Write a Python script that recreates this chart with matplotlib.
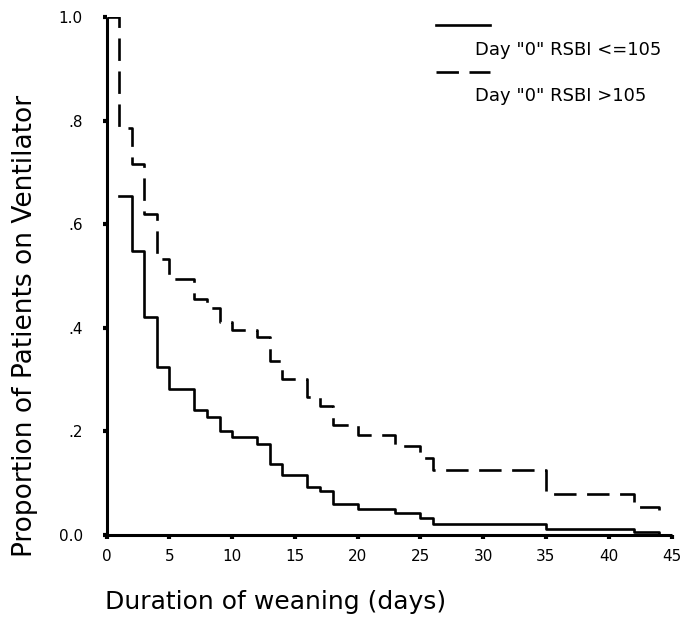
import numpy as np
import matplotlib
matplotlib.use("Agg")
import matplotlib.pyplot as plt
from matplotlib.lines import Line2D

# ---------------- DATA ----------------

# RSBI <= 105 (solid line): time of each step (days) and proportion after it
low_days = [1, 2, 3, 4, 5, 7, 8, 9, 10, 12, 13, 14, 16, 17, 18, 20, 23, 25, 26, 35, 42, 44]
low_prop = [0.655, 0.549, 0.421, 0.324, 0.281, 0.241, 0.228, 0.201, 0.189, 0.176, 0.137,
            0.116, 0.093, 0.084, 0.060, 0.050, 0.042, 0.032, 0.022, 0.011, 0.006, 0.0]

# RSBI > 105 (dashed line)
high_days = [0, 1, 2, 3, 4, 5, 7, 8, 9, 10, 12, 13, 14, 16, 17, 18, 20, 23, 25, 26, 35, 42, 44]
high_prop = [1.0, 0.786, 0.716, 0.619, 0.533, 0.494, 0.455, 0.438, 0.412, 0.395, 0.382, 0.336,
             0.302, 0.266, 0.249, 0.212, 0.193, 0.172, 0.148, 0.125, 0.079, 0.055, 0.035]

x_ticks = [0, 5, 10, 15, 20, 25, 30, 35, 40, 45]
y_ticks = [0.0, 0.2, 0.4, 0.6, 0.8, 1.0]
y_ticklabels = ["0.0", ".2", ".4", ".6", ".8", "1.0"]

legend_labels = ['Day "0" RSBI <=105', 'Day "0" RSBI >105']

# ---------------- PLOTTING ----------------

plt.rcParams['font.family'] = ['DejaVu Sans']

fig = plt.figure(figsize=(6.81, 6.26), dpi=100)
ax = fig.add_axes([106.5 / 681, 1 - 535 / 626, 565 / 681, 518 / 626])

lw = 1.9
dash = [8.5, 4.0]
ax.step(low_days, low_prop, where='post', color='black', lw=lw)
dashed, = ax.step(high_days, high_prop, where='post', color='black', lw=lw)
dashed.set_dashes(dash)

ax.set_xlim(0, 45)
ax.set_ylim(0, 1.0)

for side in ['top', 'right']:
    ax.spines[side].set_visible(False)
for side in ['left', 'bottom']:
    ax.spines[side].set_linewidth(2.2)
    ax.spines[side].set_capstyle('butt')

ax.set_xticks(x_ticks)
ax.set_yticks(y_ticks)
ax.set_yticklabels(y_ticklabels)
ax.tick_params(axis='both', direction='out', length=3, width=3, labelsize=11)
ax.tick_params(axis='x', pad=7)
ax.tick_params(axis='y', pad=14)

fig.text(105 / 681, 1 - 602 / 626, 'Duration of weaning (days)', fontsize=18,
         ha='left', va='center')
fig.text(25 / 681, 1 - 326 / 626, 'Proportion of Patients on Ventilator', fontsize=19,
         rotation=90, ha='center', va='center')

# legend: sample line above each label
ax.add_line(Line2D([0.583, 0.678], [0.985, 0.985], transform=ax.transAxes,
                   color='black', lw=lw))
leg2 = Line2D([0.583, 0.678], [0.893, 0.893], transform=ax.transAxes, color='black', lw=lw)
leg2.set_dashes(dash)
ax.add_line(leg2)
ax.text(0.653, 0.937, legend_labels[0], transform=ax.transAxes, fontsize=13,
        ha='left', va='center')
ax.text(0.653, 0.848, legend_labels[1], transform=ax.transAxes, fontsize=13,
        ha='left', va='center')

fig.savefig('out.png', dpi=100)
